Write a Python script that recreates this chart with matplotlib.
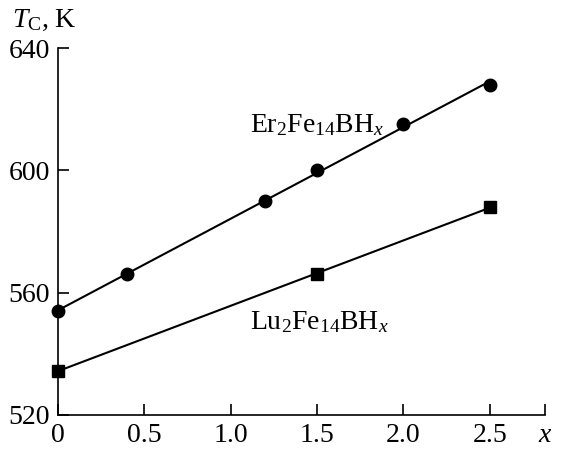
import numpy as np
import matplotlib.pyplot as plt

plt.rcParams['font.family'] = ['Liberation Serif', 'DejaVu Serif']
plt.rcParams['mathtext.fontset'] = 'custom'
plt.rcParams['mathtext.rm'] = 'Liberation Serif'
plt.rcParams['mathtext.it'] = 'Liberation Serif:italic'
plt.rcParams['xtick.direction'] = 'in'
plt.rcParams['ytick.direction'] = 'in'

# Er2Fe14BHx
x_er = [0, 0.4, 1.2, 1.5, 2.0, 2.5]
tc_er = [554, 566, 590, 600, 615, 628]
# Lu2Fe14BHx
x_lu = [0, 1.5, 2.5]
tc_lu = [534.5, 566, 588]

xticks = [0, 0.5, 1.0, 1.5, 2.0, 2.5, 2.82]
xlabels = ['0', '0.5', '1.0', '1.5', '2.0', '2.5', '$x$']
yticks = [520, 560, 600, 640]

fig = plt.figure(figsize=(5.78, 4.51), dpi=100)
ax = fig.add_axes([58/578, 1 - 415/451, (545-58)/578, (415-48)/451])

for xs, ys, m in [(x_er, tc_er, 'o'), (x_lu, tc_lu, 's')]:
    k, b = np.polyfit(xs, ys, 1)
    xx = np.array([0, 2.5])
    ax.plot(xx, k*xx + b, color='k', lw=1.5, zorder=2)
    ax.plot(xs, ys, m, color='k', ms=9, clip_on=False, zorder=3)

ax.set_xlim(0, 2.82)
ax.set_ylim(520, 640)
ax.set_xticks(xticks)
ax.set_xticklabels(xlabels)
ax.set_yticks(yticks)
ax.tick_params(direction='in', length=8, width=1.2, labelsize=20, pad=6)
ax.spines['top'].set_visible(False)
ax.spines['right'].set_visible(False)
for s in ['left', 'bottom']:
    ax.spines[s].set_linewidth(1.2)

fig.text(250/578, 1 - 125/451, 'Er$_2$Fe$_{14}$BH$_x$', fontsize=20, va='center')
fig.text(250/578, 1 - 322/451, 'Lu$_2$Fe$_{14}$BH$_x$', fontsize=20, va='center')
fig.text(12/578, 1 - 20/451, '$T_{\\rm C}$, K', fontsize=20, va='center')

fig.savefig('out.png', dpi=100)
